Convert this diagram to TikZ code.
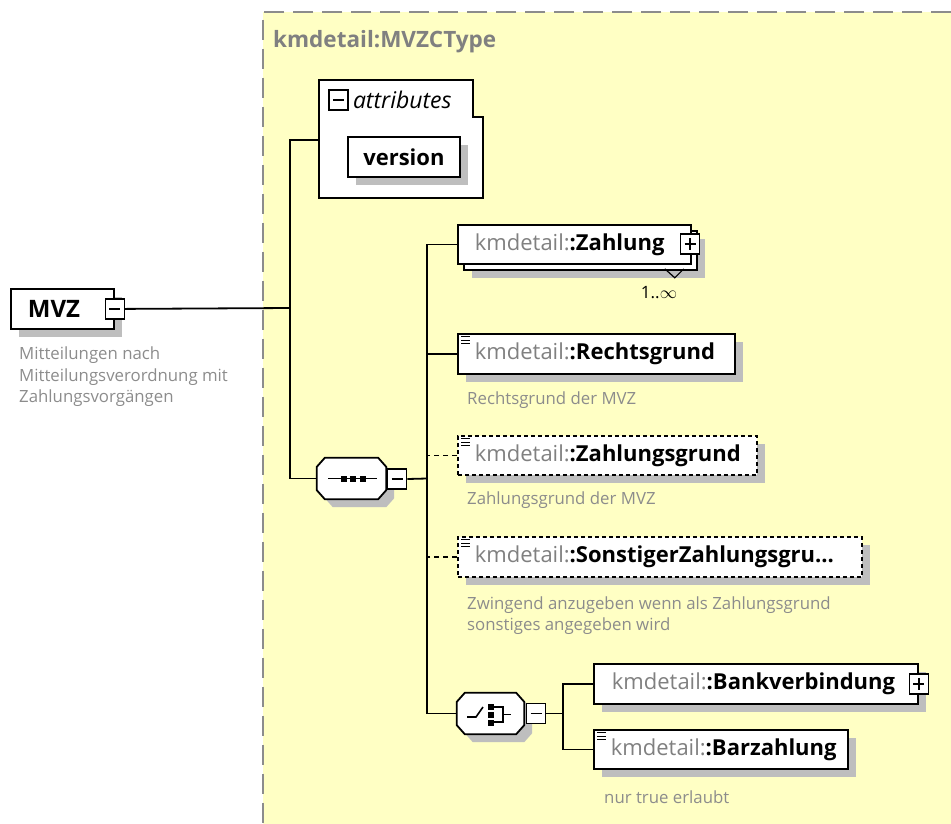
\documentclass[tikz,border=0pt]{standalone}
\usepackage{fontspec}
\setmainfont{Open Sans}
\usetikzlibrary{shadows,calc}
\definecolor{bgy}{RGB}{255,255,196}
\definecolor{shd}{RGB}{190,190,190}
\definecolor{txg}{RGB}{128,128,128}
\definecolor{dsc}{RGB}{140,140,140}
\definecolor{brd}{RGB}{140,140,140}
\newcommand\bxf{\fontsize{22}{26}\selectfont}
\newcommand\dsf{\fontsize{16.8}{21.5}\selectfont}
\newcommand\kmd[1]{{\color{txg}kmdetail:}\textbf{:#1}}
% octagon outline around a named node, shifted by (#2,#3)
\newcommand\octo[3]{($(#1.north west)+(8+#2,#3)$) -- ($(#1.north east)+(-8+#2,#3)$) -- ($(#1.north east)+(#2,9+#3)$) -- ($(#1.south east)+(#2,-9+#3)$) -- ($(#1.south east)+(-8+#2,#3)$) -- ($(#1.south west)+(8+#2,#3)$) -- ($(#1.south west)+(#2,-9+#3)$) -- ($(#1.north west)+(#2,9+#3)$) -- cycle}
\begin{document}
\begin{tikzpicture}[x=1pt,y=-1pt,
  shad/.style={drop shadow={shadow xshift=8pt,shadow yshift=-8pt,fill=shd,opacity=1}},
  elemns/.style={draw,line width=1.8pt,fill=white,inner sep=0pt,minimum height=40pt,anchor=north west,font=\bxf},
  elem/.style={elemns,shad},
  optelem/.style={elem,dash pattern=on 4pt off 3pt},
  conn/.style={line width=1.8pt},
  optconn/.style={conn,dash pattern=on 5pt off 4pt},
  pmbox/.style={draw,fill=white,line width=1.6pt,minimum width=19pt,minimum height=20pt,inner sep=0pt},
  minusbox/.style={pmbox,path picture={\draw[line width=1.6pt] ([xshift=4pt]path picture bounding box.west)--([xshift=-4pt]path picture bounding box.east);}},
  plusbox/.style={pmbox,path picture={\draw[line width=1.6pt] ([xshift=4pt]path picture bounding box.west)--([xshift=-4pt]path picture bounding box.east) ([yshift=-4pt]path picture bounding box.north)--([yshift=4pt]path picture bounding box.south);}},
  octfr/.style={inner sep=0pt,minimum height=41pt},
  desc/.style={anchor=west,font=\dsf,text=dsc,align=left,inner sep=0pt},
  icon/.style={line width=1pt},
  sym/.style={line width=1.6pt}
]
\useasboundingbox (0,0) rectangle (951,823);
% container
\node[fill=bgy,inner sep=0pt,minimum width=688pt,minimum height=812pt,anchor=north west] (ct) at (263,12) {};
\draw[brd,line width=1.8pt,dash pattern=on 20pt off 9pt] (ct.north east) -- (ct.north west) -- (ct.south west);
\node[anchor=west,font=\bfseries\fontsize{22.5}{26}\selectfont,text=txg,inner sep=0pt] (ttl) at (273,42) {kmdetail:MVZCType};

% attributes
\draw[conn,fill=white] (319,80) -- (473,80) -- (473,117) -- (483,117) -- (483,198) -- (319,198) -- cycle;
\coordinate (attr) at (319,140);
\node[minusbox] (attrmin) at (338.5,100) {};
\node[anchor=west,font=\itshape\fontsize{23}{26}\selectfont,inner xsep=4pt] (attrlbl) at (attrmin.east) {attributes};
\node[elem,minimum width=112pt] (ver) at (347,136) {\bfseries version};

% root
\node[elem,minimum width=103pt,font=\bfseries\fontsize{24}{28}\selectfont] (mvz) at (10,288) {\makebox[103pt][l]{\hspace*{17pt}MVZ}};
\node[minusbox] (mvzmin) at (mvz.east) {};
\node[desc] (mvzd) at (19,377) {Mitteilungen nach\\Mitteilungsverordnung mit\\Zahlungsvorgängen};

% junctions
\coordinate (j1) at (290,308);
\coordinate (j2) at (427,478.5);
\coordinate (j3) at (563,713.5);

% sequence
\node[octfr,minimum width=69pt] (seq) at (351.5,478.5) {};
\fill[shd] \octo{seq}{8}{8};
\draw[conn,fill=white] \octo{seq}{0}{0};
\draw[sym] ($(seq.center)+(-23.5,0)$) -- ($(seq.center)+(25.5,0)$);
\foreach \dx in {-8,1.5,11} \fill ($(seq.center)+(\dx-3,-3)$) rectangle ++(6,6);
\node[minusbox] (seqmin) at (397,479) {};

% Zahlung
\node[elem,minimum width=233pt,minimum height=39pt] (zahlb) at (463,230) {};
\node[elemns,minimum width=233pt,minimum height=39pt] (zahl) at (457,224) {\makebox[233pt][l]{\hspace*{17pt}\kmd{Zahlung}}};
\node[plusbox] (zahlpl) at (690,244) {};
\draw[line width=1.2pt] ($(zahlb.south east)+(-33,-2)$) -- ++(10,9) -- ++(9,-9);
\node[font=\fontsize{17}{20}\selectfont,inner sep=0pt] (zmult) at (659,293) {1..$\infty$};

% Rechtsgrund
\node[elem,minimum width=277pt] (rg) at (457,333) {\makebox[277pt][l]{\hspace*{17pt}\kmd{Rechtsgrund}}};
\draw[icon] ($(rg.north west)+(4,3.5)$) -- ++(9,0) ($(rg.north west)+(4,7)$) -- ++(9,0) ($(rg.north west)+(4,10.5)$) -- ++(9,0);
\node[desc] (rgd) at (467,400) {Rechtsgrund der MVZ};

% Zahlungsgrund
\node[optelem,minimum width=299pt,minimum height=39pt] (zg) at (457,435) {\makebox[299pt][l]{\hspace*{17pt}\kmd{Zahlungsgrund}}};
\draw[icon] ($(zg.north west)+(4,3.5)$) -- ++(9,0) ($(zg.north west)+(4,7)$) -- ++(9,0) ($(zg.north west)+(4,10.5)$) -- ++(9,0);
\node[desc] (zgd) at (467,500) {Zahlungsgrund der MVZ};

% Sonstiger
\node[optelem,minimum width=404pt] (szg) at (457,536) {\makebox[404pt][l]{\hspace*{17pt}\kmd{SonstigerZahlungsgru...}}};
\draw[icon] ($(szg.north west)+(4,3.5)$) -- ++(9,0) ($(szg.north west)+(4,7)$) -- ++(9,0) ($(szg.north west)+(4,10.5)$) -- ++(9,0);
\node[desc] (szgd) at (467,615.5) {Zwingend anzugeben wenn als Zahlungsgrund\\sonstiges angegeben wird};

% choice
\node[octfr,minimum width=67pt] (cho) at (490.5,713.5) {};
\fill[shd] \octo{cho}{8}{8};
\draw[conn,fill=white] \octo{cho}{0}{0};
\draw[sym] ($(cho.center)+(-23.5,3.5)$) -- ++(9,0) -- ++(7,-10);
\foreach \dy in {-6.5,1.5,9} \fill ($(cho.center)+(-2.5,\dy-3)$) rectangle ++(6,6);
\draw[sym] ($(cho.center)+(3.5,-6.5)$) -- ++(9,0) -- ++(0,15) -- ++(-9,0) ($(cho.center)+(12.5,1)$) -- ++(8,0);
\node[minusbox] (chomin) at (536,713.5) {};

% Bankverbindung
\node[elem,minimum width=324pt] (bank) at (593,663) {\makebox[324pt][l]{\hspace*{18pt}\kmd{Bankverbindung}}};
\node[plusbox] (bankpl) at (bank.east) {};

% Barzahlung
\node[elem,minimum width=254pt,minimum height=39pt] (barz) at (593,729) {\makebox[254pt][l]{\hspace*{17pt}\kmd{Barzahlung}}};
\draw[icon] ($(barz.north west)+(4,3.5)$) -- ++(9,0) ($(barz.north west)+(4,7)$) -- ++(9,0) ($(barz.north west)+(4,10.5)$) -- ++(9,0);
\node[desc] (barzd) at (604,797) {nur true erlaubt};

% connectors
\draw[conn] (mvzmin.east) -- (j1);
\draw[conn] (attr) -| (j1) |- (seq.west);
\draw[conn] (seqmin.east) -- (j2);
\draw[conn] (zahl.west) -| (j2) |- (cho.west);
\draw[conn] (rg.west) -- (rg.west -| j2);
\draw[optconn] (zg.west) -- (zg.west -| j2);
\draw[optconn] (szg.west) -- (szg.west -| j2);
\draw[conn] (chomin.east) -- (j3);
\draw[conn] (bank.west) -| (j3) |- (barz.west);
\end{tikzpicture}
\end{document}
